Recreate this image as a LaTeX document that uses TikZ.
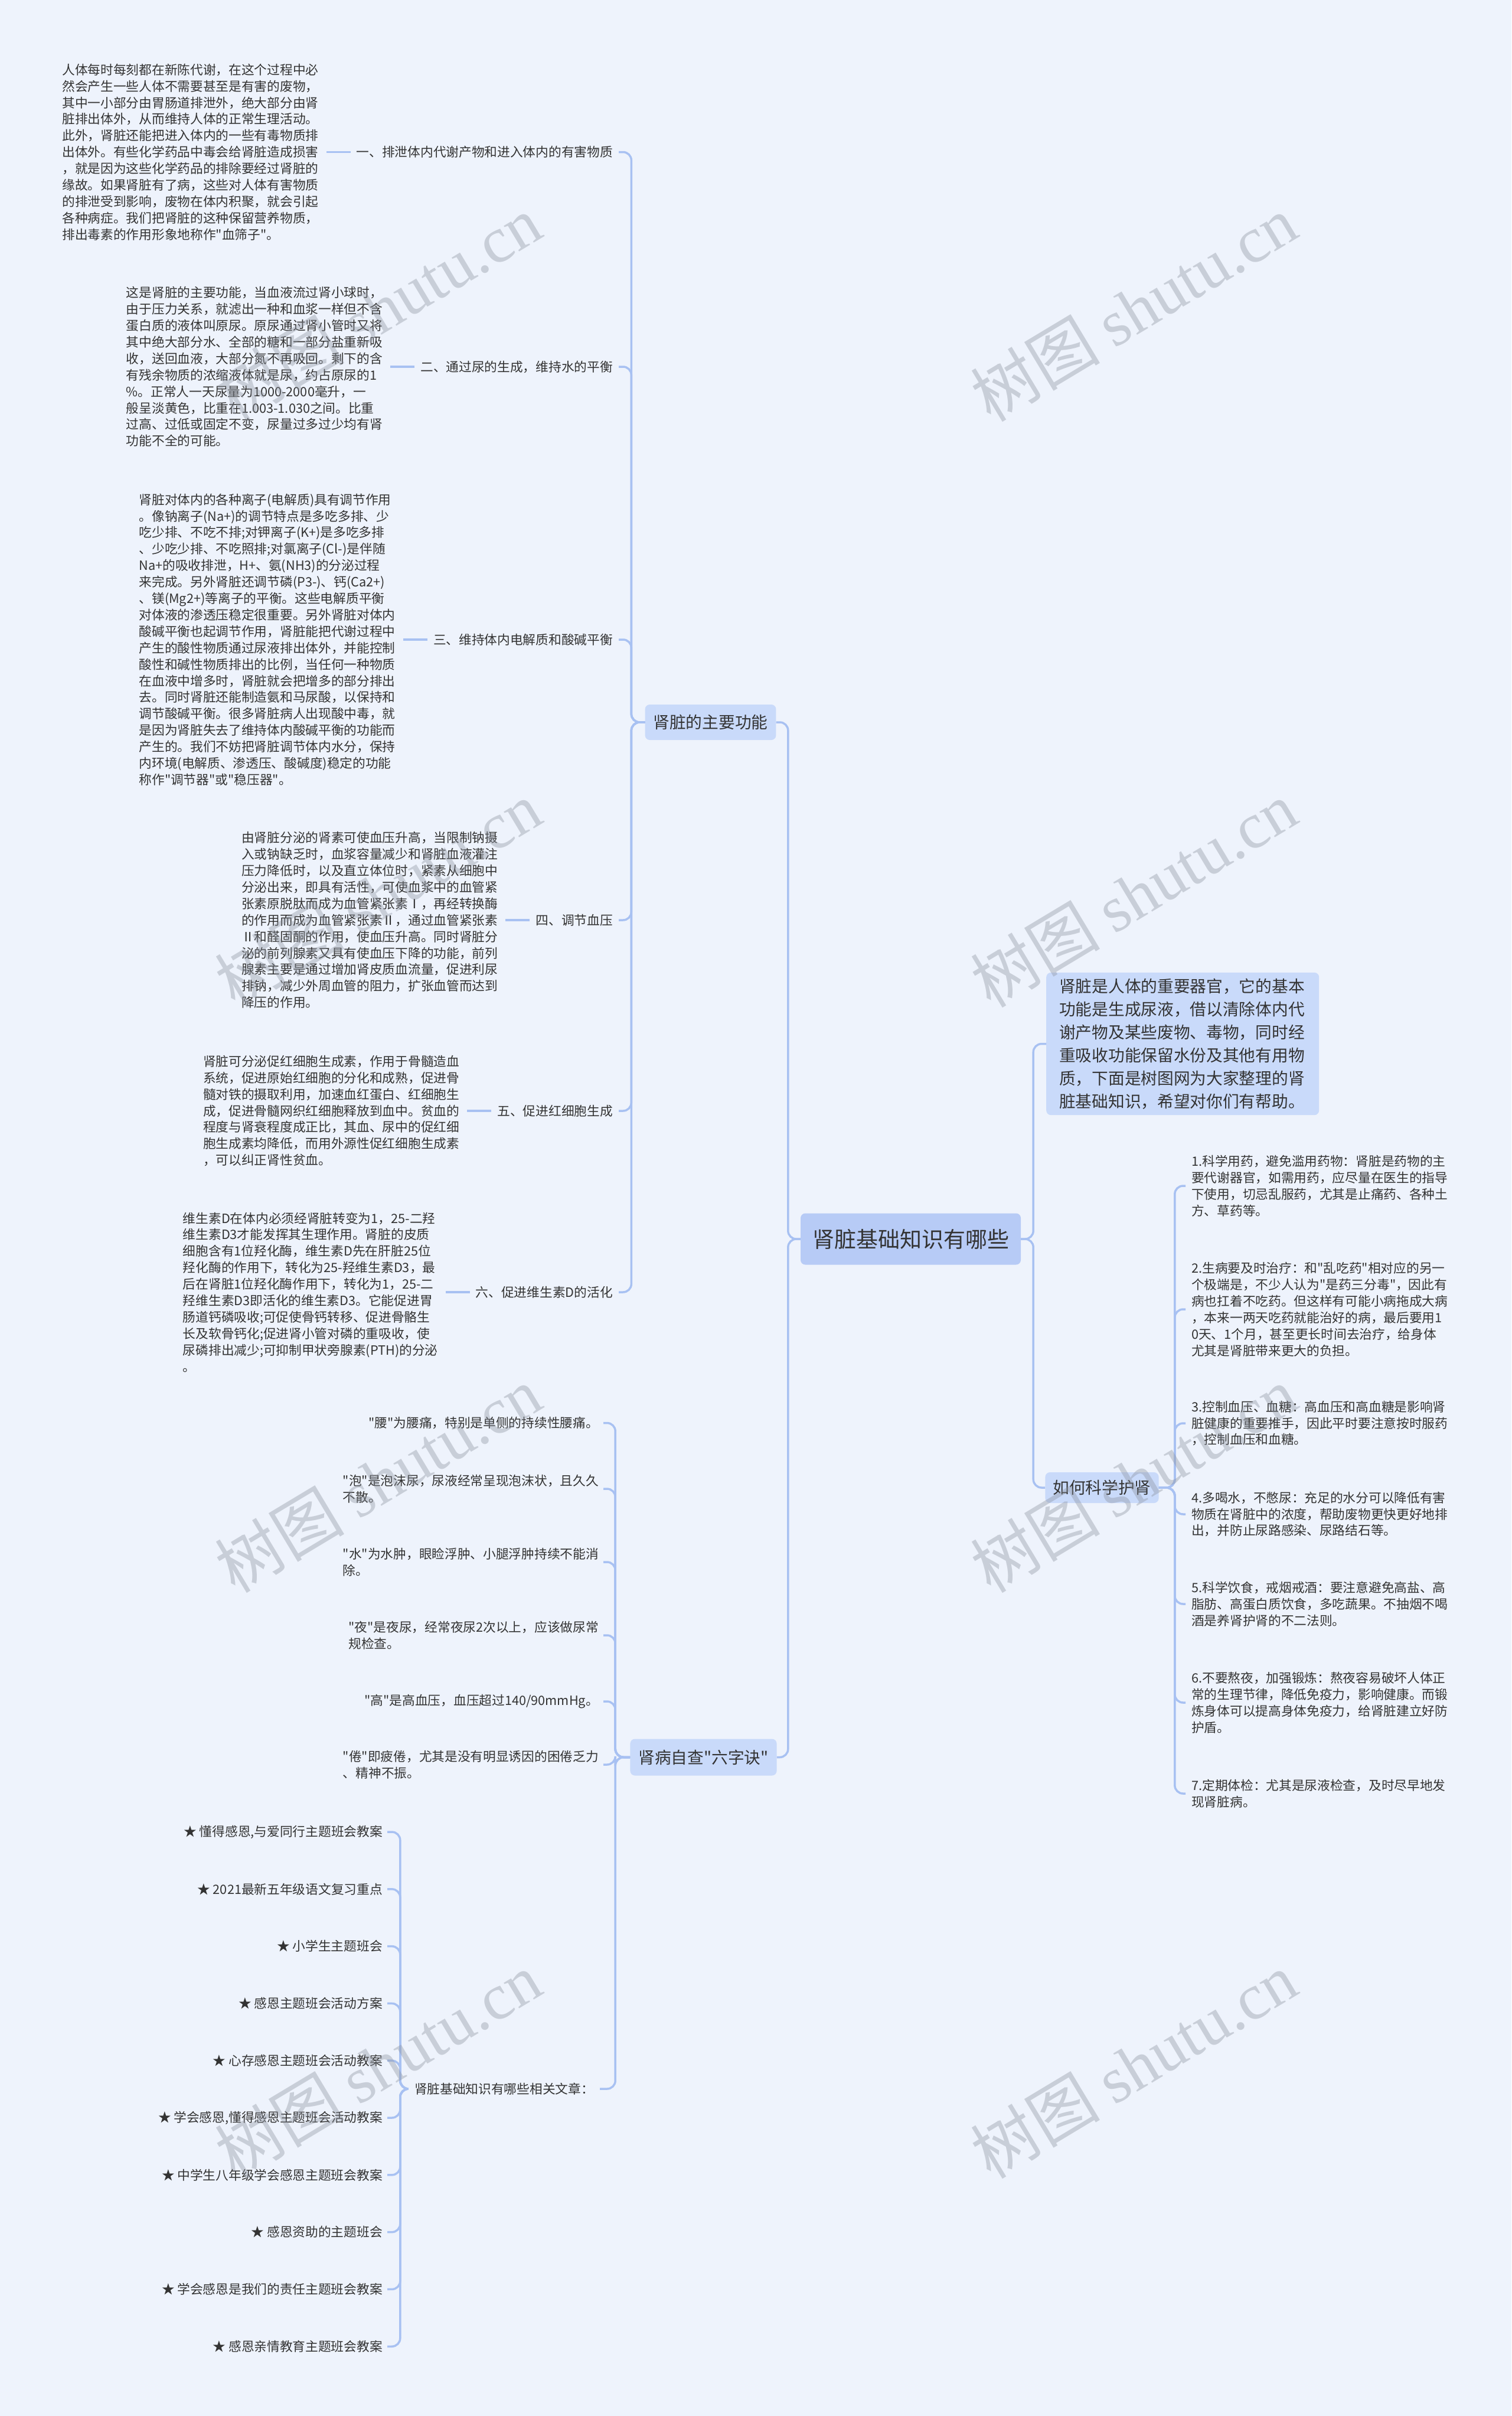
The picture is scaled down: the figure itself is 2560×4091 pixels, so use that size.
\documentclass[tikz,border=0pt]{standalone}
\usepackage{fontspec}
\setmainfont{Noto Sans CJK SC}[Ligatures=TeXOff]
\newfontfamily\wmlatin{Liberation Serif}
\usetikzlibrary{positioning}
\definecolor{bgcol}{RGB}{238,243,252}
\definecolor{linecol}{RGB}{168,193,242}
\definecolor{mainfill}{RGB}{183,203,246}
\definecolor{topicfill}{RGB}{201,218,250}
\definecolor{txt}{RGB}{51,51,51}
\definecolor{wmcol}{RGB}{140,146,158}
\newcommand{\fsText}{\fontsize{21.7pt}{27.9pt}\selectfont}
\newcommand{\fsTopic}{\fontsize{27.7pt}{39pt}\selectfont}
\newcommand{\fsMain}{\fontsize{37pt}{44pt}\selectfont}

\begin{document}
\begin{tikzpicture}[x=1pt,y=-1pt,
  conn/.style={draw=linecol,line width=3.5pt,rounded corners=14pt},
  mainnode/.style={fill=mainfill,rounded corners=8pt,text=txt,font=\fsMain,inner xsep=20pt,minimum height=87pt},
  topic/.style={fill=topicfill,rounded corners=8pt,text=txt,font=\fsTopic,inner xsep=14pt,minimum height=60pt},
  lbl/.style={text=txt,font=\fsText,inner xsep=10pt,anchor=east},
  para/.style={text=txt,font=\fsText,align=left,inner xsep=13pt},
  item/.style={text=txt,font=\fsText,align=left,inner xsep=8pt},
  wm/.style={rotate=31,text=wmcol,text opacity=0.38,font=\fontsize{110pt}{110pt}\selectfont}]
\useasboundingbox (0,0) rectangle (2560,4091);
\fill[bgcol] (0,0) rectangle (2560,4091);

% centre and first level
\node[mainnode] (ctr) at (1542.5,2098) {肾脏基础知识有哪些};
\node[topic] (fn) at (1203.5,1223) {肾脏的主要功能};
\node[topic,anchor=west,align=left,text width=418pt,inner xsep=22pt,inner ysep=10pt] (intro) at (1772,1767.5)
  {肾脏是人体的重要器官，它的基本\\功能是生成尿液，借以清除体内代\\谢产物及某些废物、毒物，同时经\\重吸收功能保留水份及其他有用物\\质，下面是树图网为大家整理的肾\\脏基础知识，希望对你们有帮助。};
\node[topic,minimum height=52pt,inner xsep=13pt] (how) at (1866.5,2519) {如何科学护肾};
\node[topic,minimum height=62pt] (check) at (1191.5,2975.5) {肾病自查"六字诀"};

\draw[conn] (ctr.west) -- ++(-21,0) |- (fn.east);
\draw[conn] (ctr.west) -- ++(-21,0) |- (check.east);
\draw[conn] (ctr.east) -- ++(21,0) |- (intro.west);
\draw[conn] (ctr.east) -- ++(21,0) |- (how.west);

% main functions
\node[lbl] (l1) at (1048,257.5) {一、排泄体内代谢产物和进入体内的有害物质};
\node[lbl] (l2) at (1048,621) {二、通过尿的生成，维持水的平衡};
\node[lbl] (l3) at (1048,1083) {三、维持体内电解质和酸碱平衡};
\node[lbl] (l4) at (1048,1558) {四、调节血压};
\node[lbl] (l5) at (1048,1881) {五、促进红细胞生成};
\node[lbl] (l6) at (1048,2188) {六、促进维生素D的活化};

\node[para,left=41pt of l1] (p1) {人体每时每刻都在新陈代谢，在这个过程中必\\然会产生一些人体不需要甚至是有害的废物，\\其中一小部分由胃肠道排泄外，绝大部分由肾\\脏排出体外，从而维持人体的正常生理活动。\\此外，肾脏还能把进入体内的一些有毒物质排\\出体外。有些化学药品中毒会给肾脏造成损害\\，就是因为这些化学药品的排除要经过肾脏的\\缘故。如果肾脏有了病，这些对人体有害物质\\的排泄受到影响，废物在体内积聚，就会引起\\各种病症。我们把肾脏的这种保留营养物质，\\排出毒素的作用形象地称作"血筛子"。};
\node[para,left=41pt of l2] (p2) {这是肾脏的主要功能，当血液流过肾小球时，\\由于压力关系，就滤出一种和血浆一样但不含\\蛋白质的液体叫原尿。原尿通过肾小管时又将\\其中绝大部分水、全部的糖和一部分盐重新吸\\收，送回血液，大部分氮不再吸回。剩下的含\\有残余物质的浓缩液体就是尿，约占原尿的1\\\%。正常人一天尿量为1000-2000毫升，一\\般呈淡黄色，比重在1.003-1.030之间。比重\\过高、过低或固定不变，尿量过多过少均有肾\\功能不全的可能。};
\node[para,left=41pt of l3] (p3) {肾脏对体内的各种离子(电解质)具有调节作用\\。像钠离子(Na+)的调节特点是多吃多排、少\\吃少排、不吃不排;对钾离子(K+)是多吃多排\\、少吃少排、不吃照排;对氯离子(Cl-)是伴随\\Na+的吸收排泄，H+、氨(NH3)的分泌过程\\来完成。另外肾脏还调节磷(P3-)、钙(Ca2+)\\、镁(Mg2+)等离子的平衡。这些电解质平衡\\对体液的渗透压稳定很重要。另外肾脏对体内\\酸碱平衡也起调节作用，肾脏能把代谢过程中\\产生的酸性物质通过尿液排出体外，并能控制\\酸性和碱性物质排出的比例，当任何一种物质\\在血液中增多时，肾脏就会把增多的部分排出\\去。同时肾脏还能制造氨和马尿酸，以保持和\\调节酸碱平衡。很多肾脏病人出现酸中毒，就\\是因为肾脏失去了维持体内酸碱平衡的功能而\\产生的。我们不妨把肾脏调节体内水分，保持\\内环境(电解质、渗透压、酸碱度)稳定的功能\\称作"调节器"或"稳压器"。};
\node[para,left=41pt of l4] (p4) {由肾脏分泌的肾素可使血压升高，当限制钠摄\\入或钠缺乏时，血浆容量减少和肾脏血液灌注\\压力降低时，以及直立体位时，紧素从细胞中\\分泌出来，即具有活性，可使血浆中的血管紧\\张素原脱肽而成为血管紧张素Ⅰ，再经转换酶\\的作用而成为血管紧张素Ⅱ，通过血管紧张素\\Ⅱ和醛固酮的作用，使血压升高。同时肾脏分\\泌的前列腺素又具有使血压下降的功能，前列\\腺素主要是通过增加肾皮质血流量，促进利尿\\排钠，减少外周血管的阻力，扩张血管而达到\\降压的作用。};
\node[para,left=41pt of l5] (p5) {肾脏可分泌促红细胞生成素，作用于骨髓造血\\系统，促进原始红细胞的分化和成熟，促进骨\\髓对铁的摄取利用，加速血红蛋白、红细胞生\\成，促进骨髓网织红细胞释放到血中。贫血的\\程度与肾衰程度成正比，其血、尿中的促红细\\胞生成素均降低，而用外源性促红细胞生成素\\，可以纠正肾性贫血。};
\node[para,left=41pt of l6] (p6) {维生素D在体内必须经肾脏转变为1，25-二羟\\维生素D3才能发挥其生理作用。肾脏的皮质\\细胞含有1位羟化酶，维生素D先在肝脏25位\\羟化酶的作用下，转化为25-羟维生素D3，最\\后在肾脏1位羟化酶作用下，转化为1，25-二\\羟维生素D3即活化的维生素D3。它能促进胃\\肠道钙磷吸收;可促使骨钙转移、促进骨骼生\\长及软骨钙化;促进肾小管对磷的重吸收，使\\尿磷排出减少;可抑制甲状旁腺素(PTH)的分泌\\。};

\foreach \i in {1,...,6} {
  \draw[conn] (fn.west) -- ++(-23,0) |- (l\i.east);
  \draw[conn] (l\i.west) -- (p\i.east);
}

% how to protect the kidneys
\node[item,anchor=west,inner xsep=10pt] (r1) at (2008,2008) {1.科学用药，避免滥用药物：肾脏是药物的主\\要代谢器官，如需用药，应尽量在医生的指导\\下使用，切忌乱服药，尤其是止痛药、各种土\\方、草药等。};
\node[item,anchor=west,inner xsep=10pt] (r2) at (2008,2217) {2.生病要及时治疗：和"乱吃药"相对应的另一\\个极端是，不少人认为"是药三分毒"，因此有\\病也扛着不吃药。但这样有可能小病拖成大病\\，本来一两天吃药就能治好的病，最后要用1\\0天、1个月，甚至更长时间去治疗，给身体\\尤其是肾脏带来更大的负担。};
\node[item,anchor=west,inner xsep=10pt] (r3) at (2008,2410) {3.控制血压、血糖：高血压和高血糖是影响肾\\脏健康的重要推手，因此平时要注意按时服药\\，控制血压和血糖。};
\node[item,anchor=west,inner xsep=10pt] (r4) at (2008,2564) {4.多喝水，不憋尿：充足的水分可以降低有害\\物质在肾脏中的浓度，帮助废物更快更好地排\\出，并防止尿路感染、尿路结石等。};
\node[item,anchor=west,inner xsep=10pt] (r5) at (2008,2716) {5.科学饮食，戒烟戒酒：要注意避免高盐、高\\脂肪、高蛋白质饮食，多吃蔬果。不抽烟不喝\\酒是养肾护肾的不二法则。};
\node[item,anchor=west,inner xsep=10pt] (r6) at (2008,2883) {6.不要熬夜，加强锻炼：熬夜容易破坏人体正\\常的生理节律，降低免疫力，影响健康。而锻\\炼身体可以提高身体免疫力，给肾脏建立好防\\护盾。};
\node[item,anchor=west,inner xsep=10pt] (r7) at (2008,3037) {7.定期体检：尤其是尿液检查，及时尽早地发\\现肾脏病。};
\foreach \i in {1,...,7}
  \draw[conn] (how.east) -- ++(27,0) |- (r\i.west);

% six-word self check
\node[item,anchor=east] (s1) at (1022,2409.5) {"腰"为腰痛，特别是单侧的持续性腰痛。};
\node[item,anchor=east] (s2) at (1022,2521) {"泡"是泡沫尿，尿液经常呈现泡沫状，且久久\\不散。};
\node[item,anchor=east] (s3) at (1022,2645) {"水"为水肿，眼睑浮肿、小腿浮肿持续不能消\\除。};
\node[item,anchor=east] (s4) at (1022,2769) {"夜"是夜尿，经常夜尿2次以上，应该做尿常\\规检查。};
\node[item,anchor=east] (s5) at (1022,2881) {"高"是高血压，血压超过140/90mmHg。};
\node[item,anchor=east] (s6) at (1022,2988) {"倦"即疲倦，尤其是没有明显诱因的困倦乏力\\、精神不振。};
\node[lbl] (rel) at (1016,3537) {肾脏基础知识有哪些相关文章：};
\foreach \i in {1,...,6}
  \draw[conn] (check.west) -- ++(-25,0) |- (s\i.east);
\draw[conn] (check.west) -- ++(-25,0) |- (rel.east);

% related articles
\foreach \t [count=\i] in {{★ 懂得感恩,与爱同行主题班会教案},{★ 2021最新五年级语文复习重点},{★ 小学生主题班会},{★ 感恩主题班会活动方案},{★ 心存感恩主题班会活动教案},{★ 学会感恩,懂得感恩主题班会活动教案},{★ 中学生八年级学会感恩主题班会教案},{★ 感恩资助的主题班会},{★ 学会感恩是我们的责任主题班会教案},{★ 感恩亲情教育主题班会教案}} {
  \node[item,anchor=east] (a\i) at (656,{3102+96.8*(\i-1)}) {\t};
  \draw[conn] (rel.west) -- ++(-14,0) |- (a\i.east);
}

% watermarks
\foreach \wx in {640,1920}
  \foreach \wy in {522,1514,2505,3497}
    \node[wm] at (\wx,\wy) {树图 {\wmlatin shutu.cn}};
\end{tikzpicture}
\end{document}
